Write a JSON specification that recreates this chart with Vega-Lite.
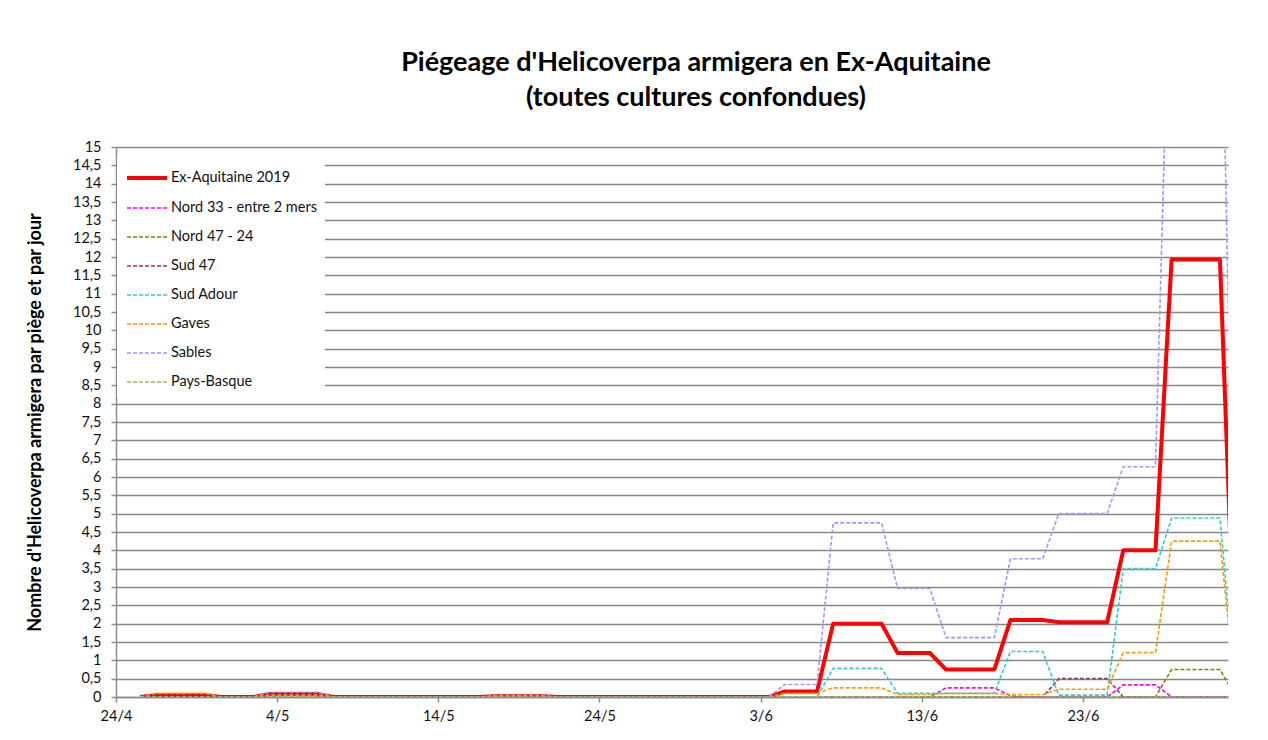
{
"$schema": "https://vega.github.io/schema/vega-lite/v6.json",
"width": 1112, "height": 550,
"autosize": {"type": "none"},
"padding": {"left": 116, "top": 147, "right": 40, "bottom": 43},
"background": "white",
"title": {"text": ["Piégeage d'Helicoverpa armigera en Ex-Aquitaine", "(toutes cultures confondues)"], "font": "Lato", "fontSize": 27, "fontWeight": "bold", "color": "#000000", "lineHeight": 35, "anchor": "middle", "offset": 27, "dx": 24},
"datasets": {"names": [
{"k": "e", "serie": "Ex-Aquitaine 2019"},
{"k": "n33", "serie": "Nord 33 - entre 2 mers"},
{"k": "n47", "serie": "Nord 47 - 24"},
{"k": "s47", "serie": "Sud 47"},
{"k": "sa", "serie": "Sud Adour"},
{"k": "g", "serie": "Gaves"},
{"k": "s", "serie": "Sables"},
{"k": "pb", "serie": "Pays-Basque"}
]},
"data": {"values": [
{"d":"2019-04-25T12:00","e":0,"n33":0,"n47":0,"s47":0,"sa":0,"g":0,"s":0,"pb":0},
{"d":"2019-04-26T12:00","e":0.05,"n33":0,"n47":0,"s47":0,"sa":0,"g":0.1,"s":0,"pb":0},
{"d":"2019-04-27T12:00","e":0.05,"n33":0,"n47":0,"s47":0,"sa":0,"g":0.1,"s":0,"pb":0},
{"d":"2019-04-28T12:00","e":0.05,"n33":0,"n47":0,"s47":0,"sa":0,"g":0.1,"s":0,"pb":0},
{"d":"2019-04-29T12:00","e":0.05,"n33":0,"n47":0,"s47":0,"sa":0,"g":0.1,"s":0,"pb":0},
{"d":"2019-04-30T12:00","e":0,"n33":0,"n47":0,"s47":0,"sa":0,"g":0,"s":0,"pb":0},
{"d":"2019-05-01T12:00","e":0,"n33":0,"n47":0,"s47":0,"sa":0,"g":0,"s":0,"pb":0},
{"d":"2019-05-02T12:00","e":0,"n33":0,"n47":0,"s47":0,"sa":0,"g":0,"s":0,"pb":0},
{"d":"2019-05-03T12:00","e":0.08,"n33":0,"n47":0,"s47":0,"sa":0,"g":0.05,"s":0.13,"pb":0},
{"d":"2019-05-04T12:00","e":0.08,"n33":0,"n47":0,"s47":0,"sa":0,"g":0.05,"s":0.13,"pb":0},
{"d":"2019-05-05T12:00","e":0.08,"n33":0,"n47":0,"s47":0,"sa":0,"g":0.05,"s":0.13,"pb":0},
{"d":"2019-05-06T12:00","e":0.08,"n33":0,"n47":0,"s47":0,"sa":0,"g":0.05,"s":0.13,"pb":0},
{"d":"2019-05-07T12:00","e":0,"n33":0,"n47":0,"s47":0,"sa":0,"g":0,"s":0,"pb":0},
{"d":"2019-05-08T12:00","e":0,"n33":0,"n47":0,"s47":0,"sa":0,"g":0,"s":0,"pb":0},
{"d":"2019-05-09T12:00","e":0,"n33":0,"n47":0,"s47":0,"sa":0,"g":0,"s":0,"pb":0},
{"d":"2019-05-10T12:00","e":0,"n33":0,"n47":0,"s47":0,"sa":0,"g":0,"s":0,"pb":0},
{"d":"2019-05-11T12:00","e":0,"n33":0,"n47":0,"s47":0,"sa":0,"g":0,"s":0,"pb":0},
{"d":"2019-05-12T12:00","e":0,"n33":0,"n47":0,"s47":0,"sa":0,"g":0,"s":0,"pb":0},
{"d":"2019-05-13T12:00","e":0,"n33":0,"n47":0,"s47":0,"sa":0,"g":0,"s":0,"pb":0},
{"d":"2019-05-14T12:00","e":0,"n33":0,"n47":0,"s47":0,"sa":0,"g":0,"s":0,"pb":0},
{"d":"2019-05-15T12:00","e":0,"n33":0,"n47":0,"s47":0,"sa":0,"g":0,"s":0,"pb":0},
{"d":"2019-05-16T12:00","e":0,"n33":0,"n47":0,"s47":0,"sa":0,"g":0,"s":0,"pb":0},
{"d":"2019-05-17T12:00","e":0.02,"n33":0,"n47":0,"s47":0,"sa":0,"g":0.04,"s":0,"pb":0},
{"d":"2019-05-18T12:00","e":0.02,"n33":0,"n47":0,"s47":0,"sa":0,"g":0.04,"s":0,"pb":0},
{"d":"2019-05-19T12:00","e":0.02,"n33":0,"n47":0,"s47":0,"sa":0,"g":0.04,"s":0,"pb":0},
{"d":"2019-05-20T12:00","e":0.02,"n33":0,"n47":0,"s47":0,"sa":0,"g":0.04,"s":0,"pb":0},
{"d":"2019-05-21T12:00","e":0,"n33":0,"n47":0,"s47":0,"sa":0,"g":0,"s":0,"pb":0},
{"d":"2019-05-22T12:00","e":0,"n33":0,"n47":0,"s47":0,"sa":0,"g":0,"s":0,"pb":0},
{"d":"2019-05-23T12:00","e":0,"n33":0,"n47":0,"s47":0,"sa":0,"g":0,"s":0,"pb":0},
{"d":"2019-05-24T12:00","e":0,"n33":0,"n47":0,"s47":0,"sa":0,"g":0,"s":0,"pb":0},
{"d":"2019-05-25T12:00","e":0,"n33":0,"n47":0,"s47":0,"sa":0,"g":0,"s":0,"pb":0},
{"d":"2019-05-26T12:00","e":0,"n33":0,"n47":0,"s47":0,"sa":0,"g":0,"s":0,"pb":0},
{"d":"2019-05-27T12:00","e":0,"n33":0,"n47":0,"s47":0,"sa":0,"g":0,"s":0,"pb":0},
{"d":"2019-05-28T12:00","e":0,"n33":0,"n47":0,"s47":0,"sa":0,"g":0,"s":0,"pb":0},
{"d":"2019-05-29T12:00","e":0,"n33":0,"n47":0,"s47":0,"sa":0,"g":0,"s":0,"pb":0},
{"d":"2019-05-30T12:00","e":0,"n33":0,"n47":0,"s47":0,"sa":0,"g":0,"s":0,"pb":0},
{"d":"2019-05-31T12:00","e":0,"n33":0,"n47":0,"s47":0,"sa":0,"g":0,"s":0,"pb":0},
{"d":"2019-06-01T12:00","e":0,"n33":0,"n47":0,"s47":0,"sa":0,"g":0,"s":0,"pb":0},
{"d":"2019-06-02T12:00","e":0,"n33":0,"n47":0,"s47":0,"sa":0,"g":0,"s":0,"pb":0},
{"d":"2019-06-03T12:00","e":0,"n33":0,"n47":0,"s47":0,"sa":0,"g":0,"s":0,"pb":0},
{"d":"2019-06-04T12:00","e":0.15,"n33":0,"n47":0,"s47":0,"sa":0,"g":0.1,"s":0.34,"pb":0},
{"d":"2019-06-05T12:00","e":0.15,"n33":0,"n47":0,"s47":0,"sa":0,"g":0.1,"s":0.34,"pb":0},
{"d":"2019-06-06T12:00","e":0.15,"n33":0,"n47":0,"s47":0,"sa":0,"g":0.1,"s":0.34,"pb":0},
{"d":"2019-06-07T12:00","e":2.0,"n33":0,"n47":0,"s47":0,"sa":0.78,"g":0.25,"s":4.75,"pb":0},
{"d":"2019-06-08T12:00","e":2.0,"n33":0,"n47":0,"s47":0,"sa":0.78,"g":0.25,"s":4.75,"pb":0},
{"d":"2019-06-09T12:00","e":2.0,"n33":0,"n47":0,"s47":0,"sa":0.78,"g":0.25,"s":4.75,"pb":0},
{"d":"2019-06-10T12:00","e":2.0,"n33":0,"n47":0,"s47":0,"sa":0.78,"g":0.25,"s":4.75,"pb":0},
{"d":"2019-06-11T12:00","e":1.2,"n33":0,"n47":0,"s47":0,"sa":0.1,"g":0.07,"s":2.96,"pb":0},
{"d":"2019-06-12T12:00","e":1.2,"n33":0,"n47":0,"s47":0,"sa":0.1,"g":0.07,"s":2.96,"pb":0},
{"d":"2019-06-13T12:00","e":1.2,"n33":0,"n47":0,"s47":0,"sa":0.1,"g":0.07,"s":2.96,"pb":0},
{"d":"2019-06-14T12:00","e":0.75,"n33":0.25,"n47":0,"s47":0,"sa":0.1,"g":0.1,"s":1.62,"pb":0},
{"d":"2019-06-15T12:00","e":0.75,"n33":0.25,"n47":0,"s47":0,"sa":0.1,"g":0.1,"s":1.62,"pb":0},
{"d":"2019-06-16T12:00","e":0.75,"n33":0.25,"n47":0,"s47":0,"sa":0.1,"g":0.1,"s":1.62,"pb":0},
{"d":"2019-06-17T12:00","e":0.75,"n33":0.25,"n47":0,"s47":0,"sa":0.1,"g":0.1,"s":1.62,"pb":0},
{"d":"2019-06-18T12:00","e":2.1,"n33":0.03,"n47":0,"s47":0,"sa":1.24,"g":0.07,"s":3.77,"pb":0},
{"d":"2019-06-19T12:00","e":2.1,"n33":0,"n47":0,"s47":0,"sa":1.24,"g":0.07,"s":3.77,"pb":0},
{"d":"2019-06-20T12:00","e":2.1,"n33":0,"n47":0,"s47":0,"sa":1.24,"g":0.07,"s":3.77,"pb":0},
{"d":"2019-06-21T12:00","e":2.04,"n33":0,"n47":0,"s47":0.5,"sa":0.05,"g":0.21,"s":5.0,"pb":0},
{"d":"2019-06-22T12:00","e":2.04,"n33":0,"n47":0,"s47":0.5,"sa":0.05,"g":0.21,"s":5.0,"pb":0},
{"d":"2019-06-23T12:00","e":2.04,"n33":0,"n47":0,"s47":0.5,"sa":0.05,"g":0.21,"s":5.0,"pb":0},
{"d":"2019-06-24T12:00","e":2.04,"n33":0,"n47":0,"s47":0.5,"sa":0.05,"g":0.21,"s":5.0,"pb":0},
{"d":"2019-06-25T12:00","e":4.0,"n33":0.33,"n47":0,"s47":0,"sa":3.5,"g":1.21,"s":6.28,"pb":0},
{"d":"2019-06-26T12:00","e":4.0,"n33":0.33,"n47":0,"s47":0,"sa":3.5,"g":1.21,"s":6.28,"pb":0},
{"d":"2019-06-27T12:00","e":4.0,"n33":0.33,"n47":0,"s47":0,"sa":3.5,"g":1.21,"s":6.28,"pb":0},
{"d":"2019-06-28T12:00","e":11.93,"n33":0,"n47":0.75,"s47":0,"sa":4.88,"g":4.25,"s":22,"pb":0},
{"d":"2019-06-29T12:00","e":11.93,"n33":0,"n47":0.75,"s47":0,"sa":4.88,"g":4.25,"s":22,"pb":0},
{"d":"2019-06-30T12:00","e":11.93,"n33":0,"n47":0.75,"s47":0,"sa":4.88,"g":4.25,"s":22,"pb":0},
{"d":"2019-07-01T12:00","e":11.93,"n33":0,"n47":0.75,"s47":0,"sa":4.88,"g":4.25,"s":22,"pb":0},
{"d":"2019-07-02T12:00","e":0,"n33":0,"n47":0,"s47":0,"sa":0,"g":0,"s":0,"pb":0}
]},
"transform": [
{"fold": ["e", "n33", "n47", "s47", "sa", "g", "s", "pb"], "as": ["k", "v"]},
{"lookup": "k", "from": {"data": {"name": "names"}, "key": "k", "fields": ["serie"]}}
],
"mark": {"type": "line", "clip": true, "strokeJoin": "round"},
"encoding": {
"x": {"field": "d", "type": "temporal",
 "scale": {"type": "time", "domain": [{"year": 2019, "month": 4, "date": 24}, {"year": 2019, "month": 7, "date": 2}], "nice": false},
 "axis": {"values": [{"year": 2019, "month": 4, "date": 24}, {"year": 2019, "month": 5, "date": 4}, {"year": 2019, "month": 5, "date": 14}, {"year": 2019, "month": 5, "date": 24}, {"year": 2019, "month": 6, "date": 3}, {"year": 2019, "month": 6, "date": 13}, {"year": 2019, "month": 6, "date": 23}],
  "format": "%-d/%-m", "title": null, "grid": false, "labelFlush": false, "labelOverlap": false,
  "domainColor": "#8c8c8c", "domainWidth": 1.5, "tickColor": "#8c8c8c", "tickWidth": 1.5, "tickSize": 5,
  "labelFont": "Lato", "labelFontSize": 14.5, "labelColor": "#111111", "labelPadding": 7}},
"y": {"field": "v", "type": "quantitative",
 "scale": {"domain": [0, 15], "nice": false},
 "axis": {"values": [0,0.5,1,1.5,2,2.5,3,3.5,4,4.5,5,5.5,6,6.5,7,7.5,8,8.5,9,9.5,10,10.5,11,11.5,12,12.5,13,13.5,14,14.5,15],
  "labelExpr": "replace(format(datum.value, '.1~f'), '.', ',')",
  "title": "Nombre d'Helicoverpa armigera par piège et par jour", "titleFont": "Lato", "titleFontSize": 18, "titleFontWeight": "bold", "titleColor": "#000000", "titleX": -81, "titleBaseline": "middle",
  "grid": true, "gridColor": "#888888", "gridWidth": 1.6,
  "domainColor": "#8c8c8c", "domainWidth": 1.5, "tickColor": "#8c8c8c", "tickWidth": 1.5, "tickSize": 5,
  "labelFont": "Lato", "labelFontSize": 14.5, "labelColor": "#111111", "labelPadding": 10, "labelOverlap": false, "labelFlush": false}},
"color": {"field": "serie", "type": "nominal",
 "scale": {"domain": ["Ex-Aquitaine 2019", "Nord 33 - entre 2 mers", "Nord 47 - 24", "Sud 47", "Sud Adour", "Gaves", "Sables", "Pays-Basque"],
  "range": ["#ff0000", "#ff00ff", "#808000", "#993366", "#33cccc", "#ff9900", "#9999ff", "#9bbb59"]},
 "legend": {"title": null, "orient": "none", "legendX": 1, "legendY": 10, "fillColor": "white", "padding": 8,
  "symbolType": "M-1,0H2.64", "symbolSize": 484, "symbolStrokeWidth": 1.5, "labelOffset": 20, "rowPadding": 10,
  "labelFont": "Lato", "labelFontSize": 14.5, "labelColor": "#111111", "labelLimit": 300}},
"strokeDash": {"field": "serie", "type": "nominal",
 "scale": {"domain": ["Ex-Aquitaine 2019", "Nord 33 - entre 2 mers", "Nord 47 - 24", "Sud 47", "Sud Adour", "Gaves", "Sables", "Pays-Basque"],
  "range": [[1, 0], [4, 2], [4, 2], [4, 2], [4, 2], [4, 2], [4, 2], [4, 2]]}},
"strokeWidth": {"field": "serie", "type": "nominal",
 "scale": {"type": "ordinal", "domain": ["Ex-Aquitaine 2019", "Nord 33 - entre 2 mers", "Nord 47 - 24", "Sud 47", "Sud Adour", "Gaves", "Sables", "Pays-Basque"],
  "range": [4, 1.6, 1.6, 1.6, 1.6, 1.6, 1.6, 1.6]}}
},
"config": {"view": {"stroke": null}, "font": "Lato"}
}
